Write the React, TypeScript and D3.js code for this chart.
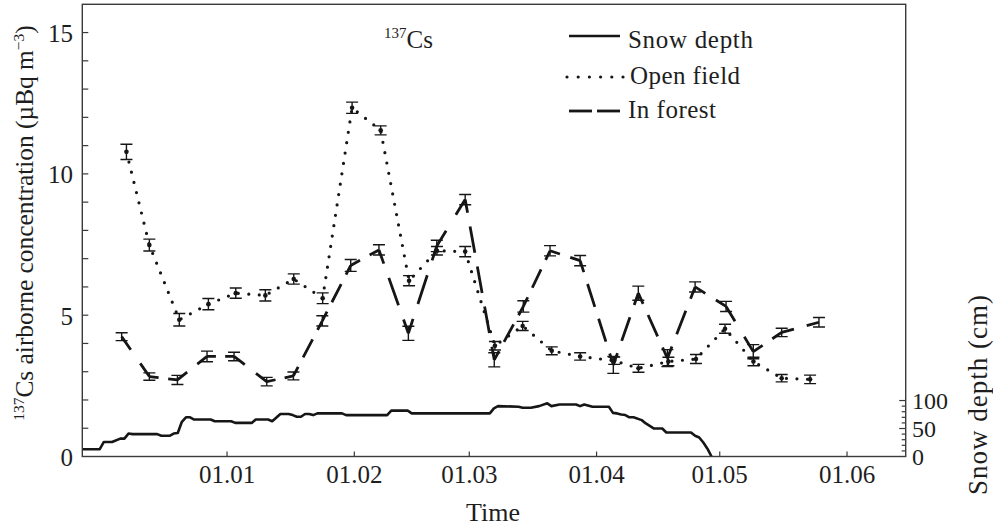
import React from 'react';
import * as d3 from 'd3';

const W = 993;
const H = 527;
const PLOT = { left: 82.3, right: 905.7, top: 4.3, bottom: 456.5 };

const parseHour = d3.timeParse('%Y-%m-%d %H');
const parseDay = d3.timeParse('%Y-%m-%d');
const fmtTick = d3.timeFormat('%d.%m');

// Axis extents
const timeDomain = ['2012-11-26 18', '2013-06-15 07'];
const concDomain = [0, 16];
const snowDomain = [0, 808];

// Tick values
const monthTicks = ['2013-01-01', '2013-02-01', '2013-03-01', '2013-04-01', '2013-05-01', '2013-06-01'];
const concTicks = [0, 5, 10, 15];
const snowTicks = [0, 50, 100];

// 137Cs in air, open field station (µBq m-3)
const openDates = [
  '2012-12-07 12', '2012-12-13 02', '2012-12-20 09', '2012-12-27 11', '2013-01-03 03',
  '2013-01-10 08', '2013-01-17 06', '2013-01-24 07', '2013-01-31 11', '2013-02-07 10',
  '2013-02-14 08', '2013-02-21 03', '2013-02-28 00', '2013-03-07 06', '2013-03-14 00',
  '2013-03-21 02', '2013-03-28 00', '2013-04-05 07', '2013-04-11 05', '2013-04-18 12',
  '2013-04-25 05', '2013-05-02 07', '2013-05-09 05', '2013-05-16 02', '2013-05-23 00',
];
const openValues = [
  10.78, 7.48, 4.84, 5.39, 5.78, 5.70, 6.28, 5.60, 12.34, 11.54,
  6.22, 7.28, 7.25, 3.92, 4.62, 3.74, 3.54, 3.39, 3.12, 3.36,
  3.45, 4.52, 3.36, 2.77, 2.73,
];
const openErrors = [
  0.27, 0.21, 0.22, 0.20, 0.18, 0.20, 0.18, 0.19, 0.20, 0.16,
  0.18, 0.15, 0.18, 0.15, 0.16, 0.14, 0.13, 0.13, 0.14, 0.15,
  0.16, 0.16, 0.15, 0.13, 0.15,
];

// 137Cs in air, forest station (µBq m-3)
const forestDates = [
  '2012-12-06 08', '2012-12-13 02', '2012-12-19 22', '2012-12-27 03', '2013-01-02 17',
  '2013-01-10 16', '2013-01-17 04', '2013-01-24 05', '2013-01-31 03', '2013-02-07 00',
  '2013-02-14 04', '2013-02-21 02', '2013-02-28 00', '2013-03-07 02', '2013-03-14 04',
  '2013-03-20 16', '2013-03-28 00', '2013-04-05 02', '2013-04-11 04', '2013-04-18 06',
  '2013-04-25 00', '2013-05-02 13', '2013-05-09 04', '2013-05-16 02', '2013-05-25 04',
];
const forestValues = [
  4.24, 2.83, 2.71, 3.54, 3.54, 2.65, 2.85, 4.80, 6.76, 7.31,
  4.36, 7.45, 9.09, 3.42, 5.31, 7.28, 6.93, 3.24, 5.78, 3.48,
  6.00, 5.31, 3.71, 4.39, 4.75,
];
const forestErrors = [
  0.14, 0.13, 0.16, 0.19, 0.15, 0.15, 0.14, 0.18, 0.21, 0.18,
  0.25, 0.20, 0.18, 0.25, 0.20, 0.18, 0.18, 0.30, 0.25, 0.30,
  0.18, 0.18, 0.25, 0.15, 0.17,
];

// Snow depth (cm)
const snowDates = [
  '2012-11-26', '2012-12-01', '2012-12-02', '2012-12-04', '2012-12-06', '2012-12-07',
  '2012-12-08', '2012-12-09', '2012-12-15', '2012-12-16', '2012-12-18', '2012-12-19',
  '2012-12-20', '2012-12-21', '2012-12-22', '2012-12-23', '2012-12-24', '2012-12-28',
  '2012-12-29', '2013-01-02', '2013-01-03', '2013-01-07', '2013-01-08', '2013-01-11',
  '2013-01-12', '2013-01-14', '2013-01-16', '2013-01-17', '2013-01-18', '2013-01-19',
  '2013-01-20', '2013-01-21', '2013-01-22', '2013-01-23', '2013-01-29', '2013-01-30',
  '2013-02-09', '2013-02-10', '2013-02-14', '2013-02-15', '2013-03-06', '2013-03-07',
  '2013-03-08', '2013-03-13', '2013-03-14', '2013-03-16', '2013-03-18', '2013-03-20',
  '2013-03-21', '2013-03-23', '2013-03-27', '2013-03-28', '2013-03-29', '2013-03-31',
  '2013-04-04', '2013-04-05', '2013-04-06', '2013-04-07', '2013-04-08', '2013-04-09',
  '2013-04-10', '2013-04-12', '2013-04-13', '2013-04-15', '2013-04-17', '2013-04-18',
  '2013-04-24', '2013-04-25', '2013-04-26', '2013-04-27', '2013-04-28', '2013-04-29',
];
const snowDepth = [
  13, 13, 26, 26, 32, 32,
  41, 40, 40, 37, 37, 41,
  42, 62, 70, 70, 66, 66,
  63, 63, 60, 60, 66, 66,
  63, 76, 76, 74, 71, 71,
  76, 76, 74, 77, 77, 74,
  74, 82, 82, 77, 77, 86,
  90, 89, 87, 87, 90, 95,
  90, 93, 93, 90, 93, 89,
  89, 78, 77, 75, 74, 70,
  70, 65, 59, 50, 50, 43,
  43, 37, 34, 25, 14, 0,
];

const INK = '#161616';
const FRAME = '#3a3a3a';
const TEXT = '#1e1e1e';
const FONT = '"Liberation Serif", "Times New Roman", serif';

export default function App() {
  const x = d3.scaleTime()
    .domain(timeDomain.map((s) => parseHour(s) as Date))
    .range([PLOT.left, PLOT.right]);
  const y = d3.scaleLinear().domain(concDomain).range([PLOT.bottom, PLOT.top]);
  const ySnow = d3.scaleLinear().domain(snowDomain).range([PLOT.bottom, PLOT.top]);

  const openPts = openDates.map((d, i) => ({ t: parseHour(d) as Date, v: openValues[i], e: openErrors[i] }));
  const forestPts = forestDates.map((d, i) => ({ t: parseHour(d) as Date, v: forestValues[i], e: forestErrors[i] }));
  const snowPts = snowDates.map((d, i) => ({ t: parseDay(d) as Date, v: snowDepth[i] }));

  const concLine = d3.line<{ t: Date; v: number }>().x((p) => x(p.t)).y((p) => y(p.v));
  const snowLine = d3.line<{ t: Date; v: number }>().x((p) => x(p.t)).y((p) => ySnow(p.v));

  // Forest series: each segment gets its own dash pattern so a dash runs through every sample
  const DASH = 25;
  const GAP = 13;
  const forestSegs = d3.pairs(forestPts).map(([a, b], i) => {
    const x1 = x(a.t), y1 = y(a.v), x2 = x(b.t), y2 = y(b.v);
    const len = Math.hypot(x2 - x1, y2 - y1);
    const n = Math.max(1, Math.round(len / (DASH + GAP)));
    const k = len / (n * (DASH + GAP));
    return { key: i, x1, y1, x2, y2, dash: `${DASH * k} ${GAP * k}`, offset: (DASH * k) / 2 };
  });

  const minorConc = d3.range(1, 16);
  const minorSnow = d3.range(10, 101, 10);

  const errorBar = (p: { t: Date; v: number; e: number }, key: string) => {
    const cx = x(p.t);
    const yt = y(p.v + p.e);
    const yb = y(p.v - p.e);
    return (
      <g key={key} stroke={INK} strokeWidth={1.4}>
        <line x1={cx} x2={cx} y1={yt} y2={yb} />
        <line x1={cx - 6} x2={cx + 6} y1={yt} y2={yt} />
        <line x1={cx - 6} x2={cx + 6} y1={yb} y2={yb} />
      </g>
    );
  };

  return (
    <div style={{ position: 'absolute', left: 0, top: 0, width: W, height: H, background: '#fff' }}>
      <svg width={W} height={H} viewBox={`0 0 ${W} ${H}`} style={{ display: 'block', fontFamily: FONT }}>
        <defs>
          <clipPath id="plot-area">
            <rect x={PLOT.left} y={PLOT.top} width={PLOT.right - PLOT.left} height={PLOT.bottom - PLOT.top} />
          </clipPath>
        </defs>
        <rect width={W} height={H} fill="#fff" />

        {/* left axis ticks and labels */}
        <g stroke={FRAME} strokeWidth={1.2}>
          {minorConc.map((v) => (
            <line key={v} x1={PLOT.left} x2={PLOT.left + 6} y1={y(v)} y2={y(v)} />
          ))}
        </g>
        <g fontSize={25} fill={TEXT} textAnchor="end">
          {concTicks.map((v) => (
            <text key={v} x={73} y={y(v)} dy="0.38em">{v}</text>
          ))}
        </g>

        {/* right (snow) axis ticks and labels */}
        <g stroke={FRAME} strokeWidth={1.2}>
          {minorSnow.map((v) => (
            <line key={v} x1={PLOT.right} x2={PLOT.right - (v % 50 === 0 ? 6.5 : 4)} y1={ySnow(v)} y2={ySnow(v)} />
          ))}
        </g>
        <g fontSize={24} fill={TEXT} textAnchor="start">
          {snowTicks.map((v) => (
            <text key={v} x={912} y={ySnow(v)} dy="0.36em">{v}</text>
          ))}
        </g>

        {/* bottom axis ticks and labels */}
        <g stroke={FRAME} strokeWidth={1.2}>
          {monthTicks.map((s) => {
            const px = x(parseDay(s) as Date);
            return <line key={s} x1={px} x2={px} y1={PLOT.bottom} y2={PLOT.bottom - 5} />;
          })}
        </g>
        <g fontSize={25} fill={TEXT} textAnchor="middle">
          {monthTicks.map((s) => {
            const dt = parseDay(s) as Date;
            return <text key={s} x={x(dt)} y={483}>{fmtTick(dt)}</text>;
          })}
        </g>

        {/* data */}
        <g clipPath="url(#plot-area)">
          <path d={snowLine(snowPts) || ''} fill="none" stroke={INK} strokeWidth={2.6} strokeLinejoin="round" />
          <path
            d={concLine(openPts) || ''}
            fill="none"
            stroke={INK}
            strokeWidth={3.2}
            strokeLinecap="round"
            strokeDasharray="0 10.5"
          />
          {openPts.map((p, i) => (
            <circle key={`od${i}`} cx={x(p.t)} cy={y(p.v)} r={2.3} fill={INK} />
          ))}
          {forestSegs.map((s) => (
            <line
              key={`fs${s.key}`}
              x1={s.x1}
              y1={s.y1}
              x2={s.x2}
              y2={s.y2}
              stroke={INK}
              strokeWidth={2.8}
              strokeDasharray={s.dash}
              strokeDashoffset={s.offset}
            />
          ))}
          {openPts.map((p, i) => errorBar(p, `oe${i}`))}
          {forestPts.map((p, i) => errorBar(p, `fe${i}`))}
        </g>

        {/* frame */}
        <rect
          x={PLOT.left}
          y={PLOT.top}
          width={PLOT.right - PLOT.left}
          height={PLOT.bottom - PLOT.top}
          fill="none"
          stroke={FRAME}
          strokeWidth={1.4}
        />

        {/* series label */}
        <text x={384} y={48} fontSize={25} fill={TEXT}>
          <tspan fontSize={15} dy={-10}>137</tspan>
          <tspan dy={10}>Cs</tspan>
        </text>

        {/* legend */}
        <g fontSize={25} fill={TEXT}>
          <line x1={569} x2={620} y1={36} y2={36} stroke={INK} strokeWidth={2.6} />
          <text x={628} y={48} textLength={125} lengthAdjust="spacing">Snow depth</text>
          <line
            x1={567}
            x2={623}
            y1={77}
            y2={77}
            stroke={INK}
            strokeWidth={3.2}
            strokeLinecap="round"
            strokeDasharray="0 11.2"
          />
          <text x={630} y={83.5} textLength={110} lengthAdjust="spacing">Open field</text>
          <line x1={569} x2={592} y1={111} y2={111} stroke={INK} strokeWidth={2.8} />
          <line x1={597} x2={620} y1={111} y2={111} stroke={INK} strokeWidth={2.8} />
          <text x={628} y={117.5} textLength={88} lengthAdjust="spacing">In forest</text>
        </g>

        {/* axis titles */}
        <text x={493} y={521} fontSize={26} fill={TEXT} textAnchor="middle">Time</text>
        <text transform="translate(33,223) rotate(-90)" fontSize={25.4} fill={TEXT} textAnchor="middle">
          <tspan fontSize={15.5} dy={-9}>137</tspan>
          <tspan dy={9}>Cs airborne concentration (µBq m</tspan>
          <tspan fontSize={15.5} dy={-9}>−3</tspan>
          <tspan dy={9}>)</tspan>
        </text>
        <text
          transform="translate(987,395) rotate(-90)"
          fontSize={27}
          fill={TEXT}
          textAnchor="middle"
          textLength={200}
          lengthAdjust="spacing"
        >
          Snow depth (cm)
        </text>
      </svg>
    </div>
  );
}
